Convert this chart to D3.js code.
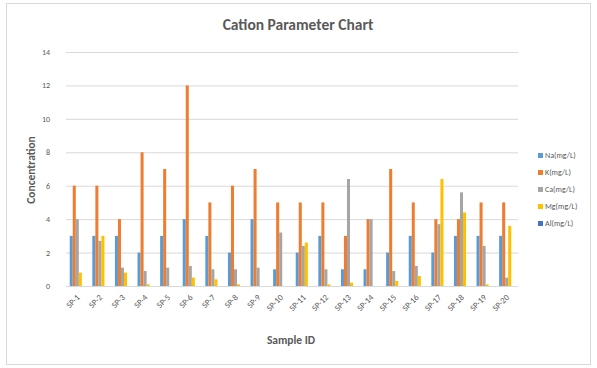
<html>
<head>
  <script src="https://d3js.org/d3.v7.min.js"></script>
  <style>
    body { margin: 0; background: #fff; }
    text { font-family: Calibri, Carlito, "Open Sans", sans-serif; fill: #595959; }
  </style>
</head>
<body>
<svg id="chart" width="597" height="368"></svg>
<script>
const samples = ["SP-1","SP-2","SP-3","SP-4","SP-5","SP-6","SP-7","SP-8","SP-9","SP-10",
                 "SP-11","SP-12","SP-13","SP-14","SP-15","SP-16","SP-17","SP-18","SP-19","SP-20"];
const seriesNames = ["Na(mg/L)","K(mg/L)","Ca(mg/L)","Mg(mg/L)","Al(mg/L)"];
const seriesColors = ["#5B9BD5","#ED7D31","#A5A5A5","#FFC000","#4472C4"];
const na = [3,3,3,2,3,4,3,2,4,1,2,3,1,1,2,3,2,3,3,3];
const k  = [6,6,4,8,7,12,5,6,7,5,5,5,3,4,7,5,4,4,5,5];
const ca = [4,2.7,1.1,0.9,1.1,1.2,1,1,1.1,3.2,2.4,1,6.4,4,0.9,1.2,3.7,5.6,2.4,0.5];
const mg = [0.8,3,0.8,0.1,0,0.5,0.4,0.1,0,0,2.6,0.1,0.2,0,0.3,0.6,6.4,4.4,0.1,3.6];
const al = [0,0,0,0,0,0,0,0,0,0,0,0,0,0,0,0,0,0,0,0];
const yTicks = [0,2,4,6,8,10,12,14];

const values = [na, k, ca, mg, al];

const svg = d3.select("#chart");
svg.append("rect")
  .attr("x", 6.5).attr("y", 3.5).attr("width", 584).attr("height", 361)
  .attr("fill", "#fff").attr("stroke", "#d9d9d9");

const plotLeft = 66, plotRight = 518, plotTop = 52, plotBottom = 286;

const x = d3.scaleBand().domain(samples).range([plotLeft, plotRight]).paddingInner(0.33).paddingOuter(0.165);
const xs = d3.scaleBand().domain(seriesNames).range([0, x.bandwidth()]);
const y = d3.scaleLinear().domain([0, 14]).range([plotBottom, plotTop]);

// gridlines
svg.append("g")
  .selectAll("line")
  .data(yTicks)
  .join("line")
  .attr("x1", plotLeft).attr("x2", plotRight)
  .attr("y1", d => y(d) + 0.5).attr("y2", d => y(d) + 0.5)
  .attr("stroke", "#d9d9d9");

// y tick labels
svg.append("g")
  .selectAll("text")
  .data(yTicks)
  .join("text")
  .attr("x", 50).attr("y", d => y(d) + 3)
  .attr("text-anchor", "end")
  .attr("font-size", 8)
  .text(d => d);

// bars
const groups = svg.append("g")
  .selectAll("g")
  .data(seriesNames)
  .join("g")
  .attr("fill", (d, i) => seriesColors[i]);

groups.selectAll("rect")
  .data((s, si) => values[si].map((v, i) => ({ s: s, sample: samples[i], v: v })))
  .join("rect")
  .attr("x", d => x(d.sample) + xs(d.s))
  .attr("width", xs.bandwidth())
  .attr("y", d => y(d.v))
  .attr("height", d => plotBottom - y(d.v));

// x tick labels
svg.append("g")
  .selectAll("text")
  .data(samples)
  .join("text")
  .attr("text-anchor", "end")
  .attr("font-size", 8.5)
  .attr("transform", d => "translate(" + (x(d) + x.bandwidth() / 2 + 3) + "," + (plotBottom + 12) + ") rotate(-45)")
  .text(d => d);

// titles
svg.append("text")
  .attr("x", 298).attr("y", 30)
  .attr("text-anchor", "middle")
  .attr("font-size", 15.5)
  .attr("font-weight", 600)
  .text("Cation Parameter Chart");

svg.append("text")
  .attr("x", 291).attr("y", 344)
  .attr("text-anchor", "middle")
  .attr("font-size", 11.5)
  .attr("font-weight", "bold")
  .text("Sample ID");

svg.append("text")
  .attr("transform", "translate(35,170) rotate(-90)")
  .attr("text-anchor", "middle")
  .attr("font-size", 11.5)
  .attr("font-weight", "bold")
  .text("Concentration");

// legend
const legend = svg.append("g")
  .selectAll("g")
  .data(seriesNames)
  .join("g")
  .attr("transform", (d, i) => "translate(538," + (157 + i * 17) + ")");

legend.append("rect")
  .attr("x", 0).attr("y", -4).attr("width", 5).attr("height", 5)
  .attr("fill", (d, i) => seriesColors[i]);

legend.append("text")
  .attr("x", 7).attr("y", 1)
  .attr("font-size", 8)
  .text(d => d);
</script>
</body>
</html>
